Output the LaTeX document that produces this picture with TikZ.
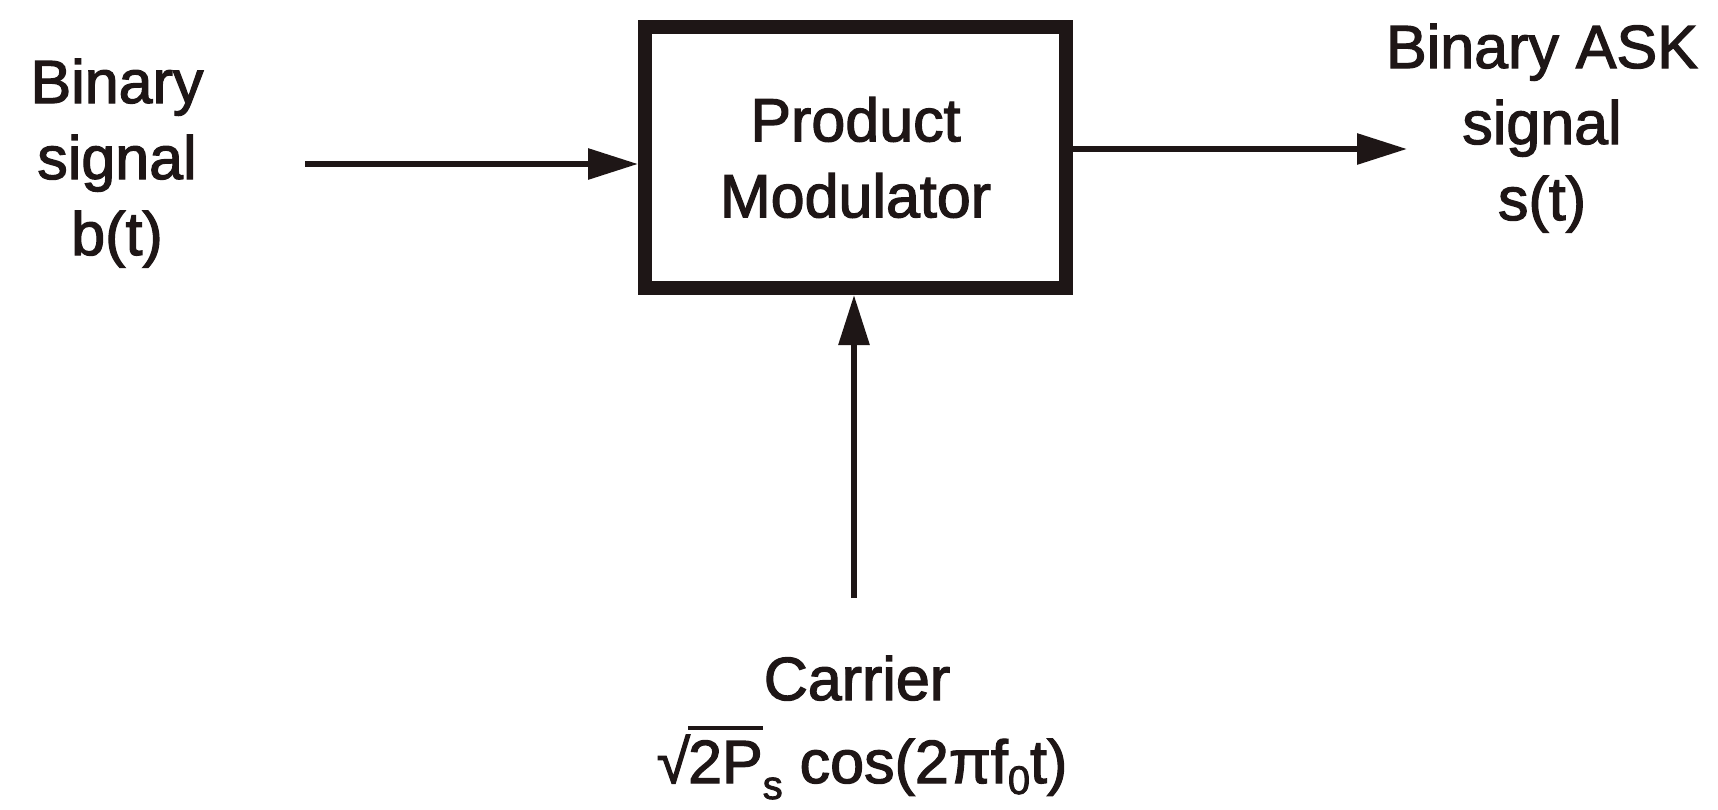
\documentclass[tikz,border=0pt]{standalone}
\usepackage{fontspec}
\setmainfont{Liberation Sans}[UprightFeatures={FakeBold=2}]
\usetikzlibrary{arrows.meta}
\definecolor{ink}{RGB}{30,22,22}
\newcommand\mysubsz{\fontsize{40}{40}\selectfont}
\newcommand\myroot[1]{√\kern-2pt\vbox{\hrule height 4pt\kern 10pt\hbox{#1}}}
\begin{document}
\begin{tikzpicture}[x=1pt,y=-1pt,
  lbl/.style={align=center, text=ink, font=\fontsize{61}{76}\selectfont, inner sep=0pt},
  conn/.style={draw=ink, line width=6pt, -{Triangle[length=50pt,width=30pt]}},
  blk/.style={draw=ink, line width=14pt, minimum width=421pt, minimum height=261pt,
    inner sep=0pt, align=center, text=ink, font=\fontsize{61}{76}\selectfont}]
\useasboundingbox (0,0) rectangle (1718,809);
\fill[white] (0,0) rectangle (1718,809);
% block
\node[blk] (pm) at (855.5,157.5) {Product\\Modulator};
% labels (anchor base = baseline of the last line)
\node[lbl, anchor=base] (bin) at (117,255) {Binary\\signal\\b(t)};
\node[lbl, anchor=base] (ask) at (1542,220) {Binary ASK\\signal\\s(t)};
\node[lbl, anchor=base] (car) at (857,700) {Carrier};
\node[lbl, anchor=base] (frm) at (862,783)
  {\myroot{2P}\raisebox{-16pt}{\mysubsz s} cos(2πf\raisebox{-11pt}{\mysubsz 0}t)};
% connectors
\coordinate (in1) at (305,164);
\coordinate (out1) at (1407,149);
\coordinate (cr1) at (854,598);
\draw[conn] (in1) -- (in1 -| pm.west);
\draw[conn] (pm.east |- out1) -- (out1);
\draw[conn] (cr1) -- (cr1 |- pm.south);
\end{tikzpicture}
\end{document}
